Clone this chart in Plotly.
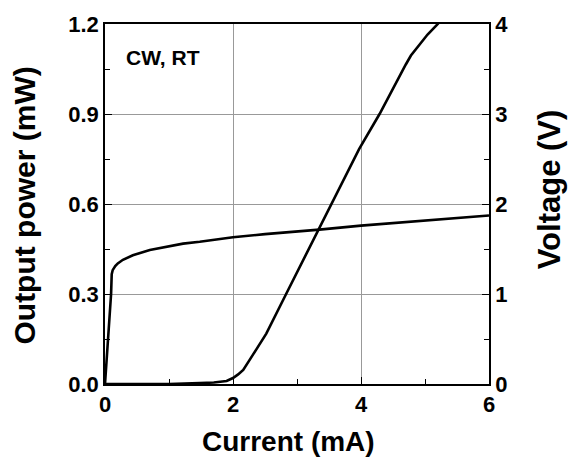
import plotly.graph_objects as go

# ---- data ----
current_v = [0, 0.05, 0.095, 0.105, 0.12, 0.16, 0.20, 0.28, 0.435, 0.70, 1.0, 1.22, 1.48,
             2.0, 2.5, 3.04, 3.35, 4.0, 4.68, 5.3, 6.0]
voltage = [0, 0.5, 1.0, 1.22, 1.265, 1.31, 1.34, 1.38, 1.43, 1.49, 1.53, 1.56, 1.58,
           1.63, 1.665, 1.695, 1.715, 1.76, 1.80, 1.835, 1.873]

current_p = [0, 1.0, 1.48, 1.7, 1.9, 2.0, 2.08, 2.16, 2.31, 2.52, 2.83, 3.04, 3.25, 3.56,
             3.97, 4.29, 4.45, 4.60, 4.70, 4.78, 4.91, 5.04, 5.20, 5.25]
power = [0, 0, 0.003, 0.005, 0.01, 0.02, 0.032, 0.047, 0.097, 0.168, 0.30, 0.388, 0.476, 0.607,
         0.783, 0.90, 0.966, 1.025, 1.065, 1.095, 1.13, 1.165, 1.20, 1.215]

x_title = "Current (mA)"
y_title = "Output power (mW)"
y2_title = "Voltage (V)"
note = "CW, RT"

FONT = "Liberation Sans"
tickfont = dict(family=FONT, size=22, color="black", weight="bold")

fig = go.Figure()
fig.add_trace(go.Scatter(x=current_p, y=power, mode="lines", yaxis="y",
                         line=dict(color="black", width=2.6),
                         showlegend=False))
fig.add_trace(go.Scatter(x=current_v, y=voltage, mode="lines", yaxis="y2",
                         line=dict(color="black", width=2.6),
                         showlegend=False))

axis_common = dict(showline=True, linecolor="black", linewidth=1.6,
                   ticks="inside", tickcolor="black", tickwidth=1.4, ticklen=7,
                   zeroline=False, tickfont=tickfont)

fig.update_layout(
    width=568, height=462,
    margin=dict(l=105, r=79, t=20, b=78),
    paper_bgcolor="white", plot_bgcolor="white",
    xaxis=dict(range=[0, 6], dtick=2, tick0=0, mirror=True,
               showgrid=True, gridcolor="#999999", gridwidth=1,
               minor=dict(dtick=1, ticks="inside", ticklen=5, tickcolor="black", tickwidth=1.4, showgrid=False),
               **axis_common),
    yaxis=dict(range=[0, 1.2], dtick=0.3, tick0=0, tickformat=".1f",
               showgrid=True, gridcolor="#999999", gridwidth=1,
               minor=dict(dtick=0.15, ticks="inside", ticklen=5, tickcolor="black", tickwidth=1.4, showgrid=False),
               **axis_common),
    yaxis2=dict(range=[0, 4], dtick=1, tick0=0, overlaying="y", side="right",
                showgrid=False,
                minor=dict(dtick=0.5, ticks="inside", ticklen=5, tickcolor="black", tickwidth=1.4, showgrid=False),
                **axis_common),
    annotations=[
        dict(text=note, xref="paper", yref="paper", x=0.05, y=0.907,
             xanchor="left", yanchor="middle", showarrow=False,
             font=dict(family=FONT, size=21, color="black", weight="bold")),
        dict(text=x_title, xref="paper", yref="paper", x=0.4785, y=-0.161,
             xanchor="center", yanchor="middle", showarrow=False,
             font=dict(family=FONT, size=28, color="black", weight="bold")),
        dict(text=y_title, xref="paper", yref="paper", x=-0.2107, y=0.496,
             xanchor="center", yanchor="middle", showarrow=False, textangle=-90,
             font=dict(family=FONT, size=30, color="black", weight="bold")),
        dict(text=y2_title, xref="paper", yref="paper", x=1.158, y=0.54,
             xanchor="center", yanchor="middle", showarrow=False, textangle=-90,
             font=dict(family=FONT, size=31, color="black", weight="bold")),
    ],
)

fig.write_html("out.html")
